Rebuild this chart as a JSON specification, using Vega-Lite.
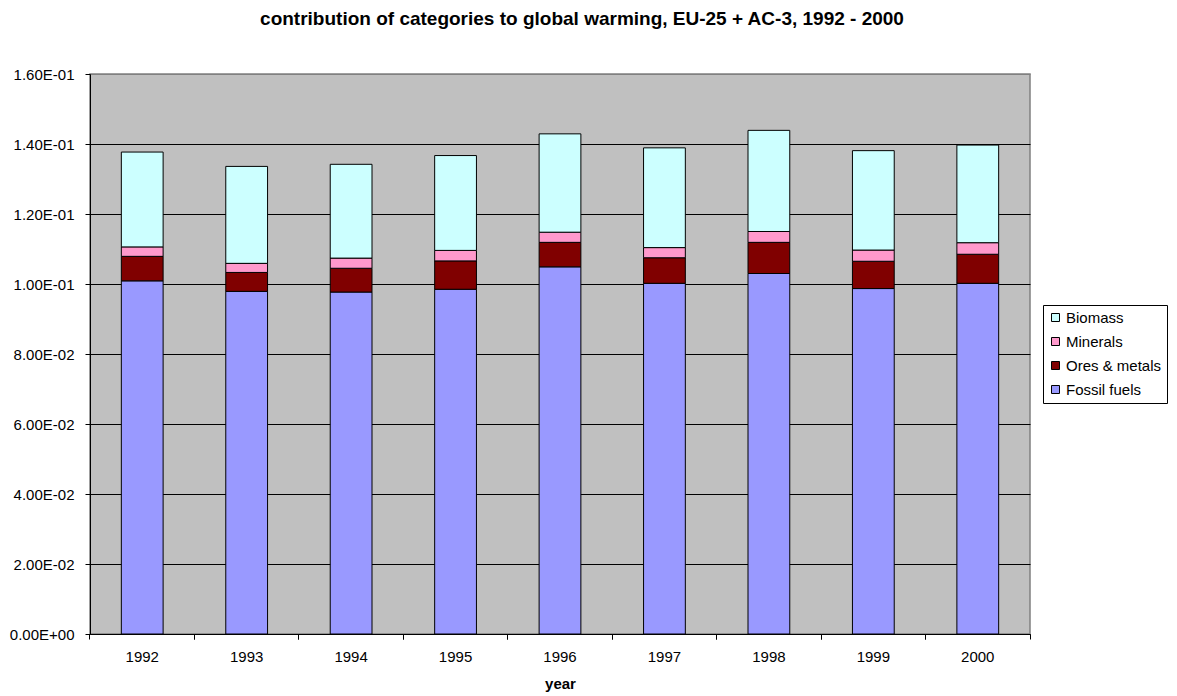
{
  "$schema": "https://vega.github.io/schema/vega-lite/v6.json",
  "width": 940,
  "height": 560,
  "autosize": "none",
  "padding": {"left": 90, "top": 74, "right": 147, "bottom": 62},
  "background": "white",
  "title": {
    "text": "contribution of categories to global warming, EU-25 + AC-3, 1992 - 2000",
    "font": "Liberation Sans",
    "fontSize": 19,
    "fontWeight": "bold",
    "color": "black",
    "anchor": "middle",
    "dx": 22,
    "offset": 38
  },
  "config": {
    "font": "Liberation Sans",
    "view": {"fill": "#C0C0C0", "stroke": "#808080", "strokeWidth": 1.5}
  },
  "data": {
    "values": [
      {"year": "1992", "category": "Fossil fuels", "value": 0.1009},
      {"year": "1992", "category": "Ores & metals", "value": 0.0070},
      {"year": "1992", "category": "Minerals", "value": 0.0027},
      {"year": "1992", "category": "Biomass", "value": 0.0271},
      {"year": "1993", "category": "Fossil fuels", "value": 0.0979},
      {"year": "1993", "category": "Ores & metals", "value": 0.0054},
      {"year": "1993", "category": "Minerals", "value": 0.0026},
      {"year": "1993", "category": "Biomass", "value": 0.0277},
      {"year": "1994", "category": "Fossil fuels", "value": 0.0977},
      {"year": "1994", "category": "Ores & metals", "value": 0.0068},
      {"year": "1994", "category": "Minerals", "value": 0.0029},
      {"year": "1994", "category": "Biomass", "value": 0.0268},
      {"year": "1995", "category": "Fossil fuels", "value": 0.0985},
      {"year": "1995", "category": "Ores & metals", "value": 0.0081},
      {"year": "1995", "category": "Minerals", "value": 0.0030},
      {"year": "1995", "category": "Biomass", "value": 0.0271},
      {"year": "1996", "category": "Fossil fuels", "value": 0.1049},
      {"year": "1996", "category": "Ores & metals", "value": 0.0070},
      {"year": "1996", "category": "Minerals", "value": 0.0029},
      {"year": "1996", "category": "Biomass", "value": 0.0281},
      {"year": "1997", "category": "Fossil fuels", "value": 0.1002},
      {"year": "1997", "category": "Ores & metals", "value": 0.0073},
      {"year": "1997", "category": "Minerals", "value": 0.0029},
      {"year": "1997", "category": "Biomass", "value": 0.0285},
      {"year": "1998", "category": "Fossil fuels", "value": 0.1030},
      {"year": "1998", "category": "Ores & metals", "value": 0.0089},
      {"year": "1998", "category": "Minerals", "value": 0.0031},
      {"year": "1998", "category": "Biomass", "value": 0.0289},
      {"year": "1999", "category": "Fossil fuels", "value": 0.0987},
      {"year": "1999", "category": "Ores & metals", "value": 0.0078},
      {"year": "1999", "category": "Minerals", "value": 0.0032},
      {"year": "1999", "category": "Biomass", "value": 0.0284},
      {"year": "2000", "category": "Fossil fuels", "value": 0.1002},
      {"year": "2000", "category": "Ores & metals", "value": 0.0083},
      {"year": "2000", "category": "Minerals", "value": 0.0033},
      {"year": "2000", "category": "Biomass", "value": 0.0279}
    ]
  },
  "transform": [
    {"calculate": "indexof(['Fossil fuels', 'Ores & metals', 'Minerals', 'Biomass'], datum.category)", "as": "stackOrder"}
  ],
  "layer": [
    {
      "mark": {"type": "bar", "stroke": "black", "strokeWidth": 1},
      "encoding": {
        "x": {
          "field": "year",
          "type": "ordinal",
          "scale": {"paddingInner": 0.6, "paddingOuter": 0.3},
          "axis": {
            "orient": "bottom",
            "title": "year",
            "titleFontSize": 15,
            "titleFontWeight": "bold",
            "titleColor": "black",
            "titlePadding": 12,
            "labelAngle": 0,
            "labelFontSize": 15,
            "labelColor": "black",
            "labelPadding": 15,
            "ticks": false,
            "domainColor": "black",
            "grid": false
          }
        },
        "y": {
          "field": "value",
          "type": "quantitative",
          "stack": "zero",
          "scale": {"domain": [0, 0.16], "nice": false},
          "axis": {
            "title": null,
            "values": [0, 0.02, 0.04, 0.06, 0.08, 0.1, 0.12, 0.14, 0.16],
            "labelExpr": "replace(replace(format(datum.value, '.2e'), 'e-', 'E-0'), 'e+', 'E+0')",
            "labelFontSize": 15,
            "labelColor": "black",
            "labelPadding": 11,
            "tickSize": 5,
            "tickColor": "black",
            "domainColor": "black",
            "grid": true,
            "gridColor": {"condition": {"test": "datum.value >= 0.159", "value": "#808080"}, "value": "black"},
            "gridWidth": 1
          }
        },
        "order": {"field": "stackOrder", "type": "quantitative", "sort": "ascending"},
        "color": {
          "field": "category",
          "type": "nominal",
          "scale": {
            "domain": ["Biomass", "Minerals", "Ores & metals", "Fossil fuels"],
            "range": ["#CCFFFF", "#FF99CC", "#800000", "#9999FF"]
          },
          "legend": {
            "title": null,
            "orient": "none",
            "legendX": 953,
            "legendY": 231,
            "fillColor": "white",
            "strokeColor": "black",
            "padding": 5,
            "symbolType": "square",
            "symbolSize": 64,
            "symbolStrokeColor": "black",
            "symbolStrokeWidth": 1,
            "labelFontSize": 15,
            "labelColor": "black",
            "labelOffset": 3,
            "rowPadding": 8
          }
        }
      }
    },
    {
      "mark": {"type": "bar", "opacity": 0},
      "encoding": {
        "x": {
          "field": "year",
          "type": "ordinal",
          "axis": {
            "orient": "bottom",
            "title": null,
            "labels": false,
            "domain": false,
            "grid": false,
            "ticks": true,
            "tickSize": 5,
            "tickColor": "black",
            "bandPosition": -0.75
          }
        }
      }
    },
    {
      "mark": {"type": "bar", "opacity": 0},
      "encoding": {
        "x": {
          "field": "year",
          "type": "ordinal",
          "axis": {
            "orient": "bottom",
            "title": null,
            "labels": false,
            "domain": false,
            "grid": false,
            "ticks": true,
            "tickSize": 5,
            "tickColor": "black",
            "bandPosition": 1.75
          }
        }
      }
    }
  ],
  "resolve": {"axis": {"x": "independent"}}
}
